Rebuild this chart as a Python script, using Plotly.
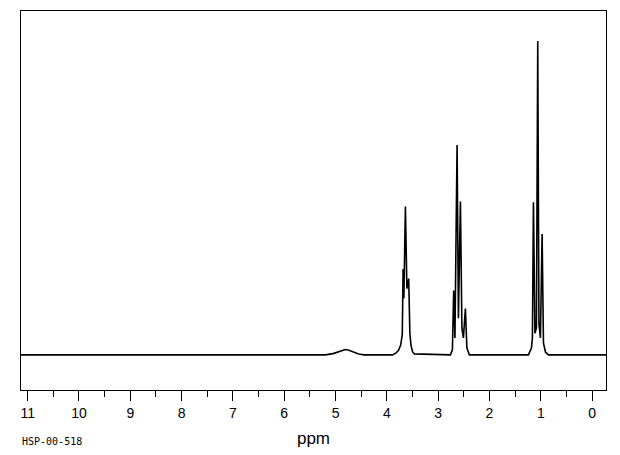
import plotly.graph_objects as go

# Spectrum vertices (chemical shift in ppm, relative intensity)
ppm = [11.13, 5.20, 5.05, 4.95, 4.88, 4.81, 4.74, 4.66, 4.55, 4.45,
       3.89, 3.82, 3.77, 3.73, 3.70, 3.684, 3.669, 3.639, 3.610, 3.575, 3.552, 3.530, 3.50, 3.464,
       2.762, 2.723, 2.698, 2.674, 2.632, 2.606, 2.587, 2.567, 2.538, 2.509, 2.470, 2.441, 2.392,
       1.242, 1.183, 1.164, 1.144, 1.115, 1.086, 1.060, 1.037, 1.008, 0.975, 0.949, 0.910, 0.852,
       -0.27]
intensity = [0.0, 0.0, 0.4, 1.0, 1.5, 1.7, 1.5, 0.9, 0.3, 0.0,
             0.0, 0.6, 1.5, 3.2, 6.5, 27.4, 18.0, 47.3, 21.1, 24.3, 6.9, 3.0, 1.0, 0.3,
             0.0, 1.6, 20.5, 5.4, 66.9, 11.7, 30.0, 48.9, 8.5, 5.4, 14.8, 2.2, 0.0,
             0.0, 2.2, 5.4, 48.6, 6.9, 8.5, 100.0, 10.1, 5.4, 38.5, 3.8, 0.9, 0.0,
             0.0]

major_ticks = list(range(0, 12))
tick_labels = [str(v) for v in major_ticks]

fig = go.Figure()
fig.add_trace(go.Scatter(x=ppm, y=intensity, mode="lines",
                         line=dict(color="black", width=1.6), hoverinfo="skip"))

fig.update_layout(
    width=620, height=455,
    margin=dict(l=21, r=14, t=10, b=62),
    paper_bgcolor="white", plot_bgcolor="white",
    showlegend=False,
    font=dict(family="Liberation Sans", color="black"),
    annotations=[dict(text="HSP-00-518", xref="paper", yref="paper",
                      x=-0.001, y=-0.136, xanchor="left", yanchor="middle",
                      showarrow=False,
                      font=dict(family="DejaVu Sans Mono", size=10, color="black"))],
)
fig.update_xaxes(
    range=[11.13, -0.27], showgrid=False, zeroline=False,
    showline=True, linecolor="black", linewidth=1, mirror=True,
    ticks="outside", ticklen=10, tickcolor="black", tickwidth=1,
    tickvals=major_ticks, ticktext=tick_labels,
    tickfont=dict(size=14, family="Liberation Sans", color="black"),
    minor=dict(dtick=0.5, tick0=0, ticks="outside", ticklen=6, tickcolor="black"),
    title=dict(text="ppm", font=dict(size=17, family="Liberation Sans", color="black"),
               standoff=12),
)
fig.update_yaxes(
    range=[-11.2, 109.6], showgrid=False, zeroline=False,
    showline=True, linecolor="black", linewidth=1, mirror=True,
    showticklabels=False, ticks="",
)

fig.write_html("out.html")
